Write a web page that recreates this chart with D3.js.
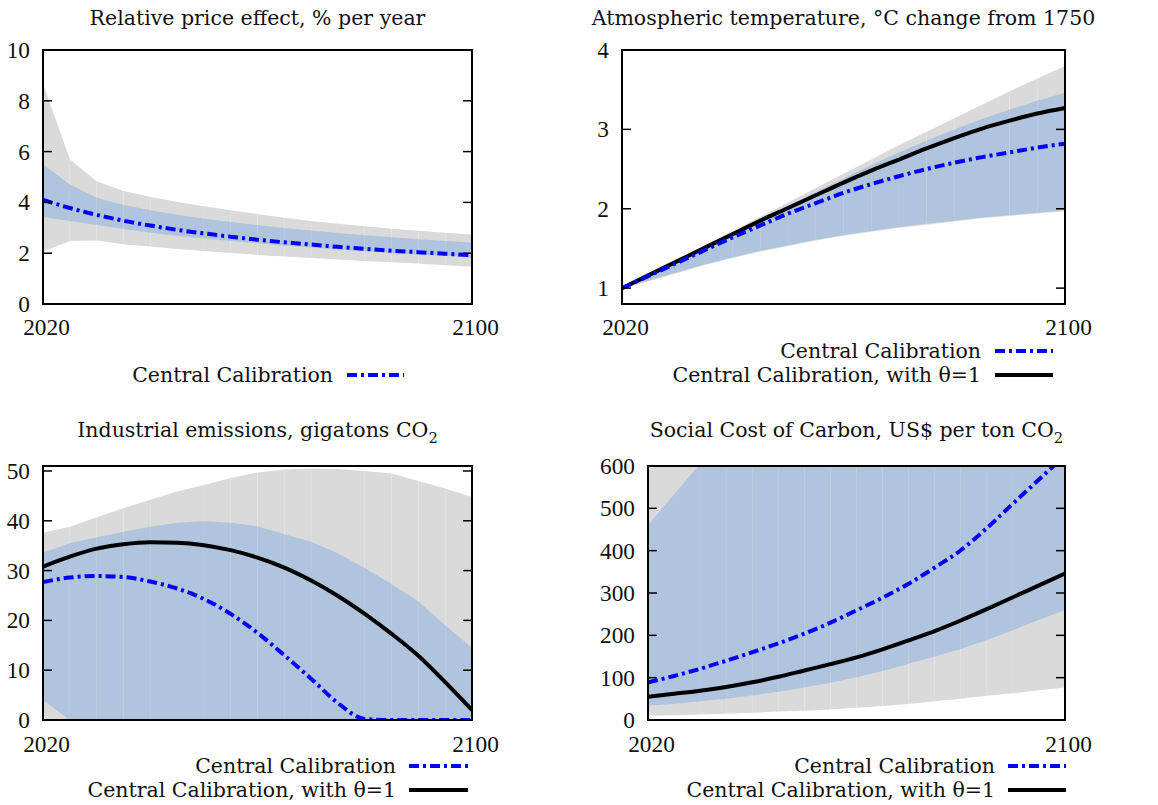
<!DOCTYPE html>
<html>
<head>
<meta charset="utf-8">
<script src="https://cdn.jsdelivr.net/npm/d3@7"></script>
<style>
  html, body { margin: 0; padding: 0; background: #ffffff; }
  svg { display: block; }
</style>
</head>
<body>
<svg id="chart" width="1158" height="805"></svg>
<script>
// ---------------- DATA ----------------
const years = [2020, 2025, 2030, 2035, 2040, 2045, 2050, 2055, 2060, 2065, 2070, 2075, 2080, 2085, 2090, 2095, 2100];
const xTickLabels = [2020, 2100];

// Panel 1: Relative price effect, % per year
const priceGreyHi = [8.68, 5.70, 4.83, 4.45, 4.22, 4.02, 3.85, 3.69, 3.54, 3.40, 3.27, 3.16, 3.06, 2.96, 2.88, 2.81, 2.74];
const priceGreyLo = [2.06, 2.48, 2.50, 2.35, 2.26, 2.17, 2.09, 2.01, 1.93, 1.87, 1.81, 1.75, 1.69, 1.64, 1.59, 1.53, 1.47];
const priceBlueHi = [5.50, 4.70, 4.18, 3.90, 3.69, 3.51, 3.36, 3.23, 3.11, 2.99, 2.89, 2.80, 2.71, 2.63, 2.55, 2.48, 2.42];
const priceBlueLo = [3.43, 3.27, 3.11, 2.95, 2.81, 2.69, 2.58, 2.48, 2.39, 2.30, 2.22, 2.15, 2.08, 2.01, 1.95, 1.89, 1.83];
const priceCentral = [4.10, 3.78, 3.51, 3.28, 3.09, 2.92, 2.78, 2.65, 2.53, 2.43, 2.34, 2.25, 2.17, 2.10, 2.04, 1.98, 1.92];
const priceTicks = [0, 2, 4, 6, 8, 10];

// Panel 2: Atmospheric temperature
const tempGreyHi = [1.00, 1.18, 1.36, 1.54, 1.72, 1.90, 2.08, 2.26, 2.44, 2.62, 2.80, 2.97, 3.14, 3.31, 3.48, 3.64, 3.80];
const tempGreyLo = [1.00, 1.09, 1.19, 1.29, 1.38, 1.46, 1.53, 1.60, 1.66, 1.71, 1.76, 1.80, 1.84, 1.88, 1.91, 1.94, 1.97];
const tempBlueHi = [1.00, 1.18, 1.35, 1.52, 1.70, 1.87, 2.04, 2.21, 2.38, 2.55, 2.71, 2.86, 3.00, 3.13, 3.25, 3.36, 3.46];
const tempBlueLo = [1.00, 1.10, 1.20, 1.30, 1.39, 1.47, 1.54, 1.61, 1.67, 1.72, 1.77, 1.81, 1.85, 1.89, 1.92, 1.95, 1.98];
const tempCentral = [1.00, 1.16, 1.32, 1.48, 1.64, 1.79, 1.94, 2.07, 2.20, 2.31, 2.41, 2.50, 2.58, 2.65, 2.71, 2.77, 2.82];
const tempTheta1 = [1.00, 1.17, 1.34, 1.51, 1.68, 1.85, 2.01, 2.17, 2.33, 2.48, 2.62, 2.76, 2.89, 3.01, 3.11, 3.20, 3.27];
const tempTicks = [1, 2, 3, 4];

// Panel 3: Industrial emissions, gigatons CO2
const emisGreyHi = [37.6, 38.8, 40.7, 42.5, 44.2, 45.9, 47.2, 48.6, 49.7, 50.3, 50.5, 50.4, 50.0, 49.5, 48.0, 46.5, 44.8];
const emisGreyLo = [0, 0, 0, 0, 0, 0, 0, 0, 0, 0, 0, 0, 0, 0, 0, 0, 0];
const emisBlueHi = [33.6, 35.5, 36.7, 37.8, 38.8, 39.6, 39.9, 39.6, 38.9, 37.3, 35.8, 33.5, 30.5, 27.3, 23.8, 19.0, 14.5];
const emisBlueLo = [4.0, 0, 0, 0, 0, 0, 0, 0, 0, 0, 0, 0, 0, 0, 0, 0, 0];
const emisCentral = [27.7, 28.6, 28.9, 28.7, 27.8, 26.4, 24.3, 21.3, 17.5, 13.0, 8.3, 3.4, 0.2, 0, 0, 0, 0];
const emisTheta1 = [30.8, 32.8, 34.4, 35.3, 35.7, 35.6, 35.1, 34.1, 32.6, 30.6, 28.0, 24.9, 21.3, 17.3, 12.9, 7.6, 2.0];
const emisTicks = [0, 10, 20, 30, 40, 50];

// Panel 4: Social Cost of Carbon, US$ per ton CO2
const sccGreyHi = [640, 760, 890, 1010, 1140, 1270, 1400, 1540, 1690, 1840, 2000, 2170, 2350, 2540, 2740, 2950, 3170];
const sccGreyLo = [10, 11, 13, 15, 17, 20, 22, 25, 29, 33, 38, 44, 50, 57, 63, 70, 77];
const sccBlueHi = [460, 533, 605, 690, 780, 870, 960, 1060, 1160, 1270, 1380, 1500, 1620, 1750, 1880, 2020, 2160];
const sccBlueLo = [34, 38, 44, 50, 58, 67, 77, 88, 101, 116, 133, 150, 168, 189, 212, 236, 260];
const sccCentral = [89, 104, 121, 140, 160, 181, 204, 230, 259, 289, 322, 360, 401, 453, 511, 568, 625];
const sccTheta1 = [55, 62, 69, 78, 89, 102, 117, 132, 148, 167, 188, 210, 235, 262, 290, 318, 346];
const sccTicks = [0, 100, 200, 300, 400, 500, 600];

const legendLabels = ["Central Calibration", "Central Calibration, with \u03B8=1"];

// ---------------- STYLE / LAYOUT ----------------
const GREY = "#dadada";
const BLUE_BAND = "#b0c4de";
const BLUE_LINE = "#0000ff";
const TEXT_FAMILY = "'DejaVu Serif', 'Liberation Serif', serif";
const NUM_FAMILY = "'Liberation Serif', 'DejaVu Serif', serif";
const TEXT_FONT = 20.5;
const NUM_FONT = 23.3;
const DASH = "10,4,3,4";

const panels = [
  { title: ["Relative price effect, % per year"], titleY: 25,
    box: [43, 472, 50, 304], yDomain: [0, 10], yTicks: priceTicks,
    greyHi: priceGreyHi, greyLo: priceGreyLo, blueHi: priceBlueHi, blueLo: priceBlueLo,
    central: priceCentral, theta1: null,
    xLabY: 335, legend: { textRight: 333, sx0: 347, sx1: 404, rows: [375] } },
  { title: ["Atmospheric temperature, \u00B0C change from 1750"], titleY: 25,
    box: [622, 1065, 50, 304], yDomain: [0.8, 4], yTicks: tempTicks,
    greyHi: tempGreyHi, greyLo: tempGreyLo, blueHi: tempBlueHi, blueLo: tempBlueLo,
    central: tempCentral, theta1: tempTheta1,
    xLabY: 335, legend: { textRight: 981, sx0: 995, sx1: 1053, rows: [351, 375] } },
  { title: ["Industrial emissions, gigatons CO", "2"], titleY: 437,
    box: [43, 472, 466, 720], yDomain: [0, 51], yTicks: emisTicks,
    greyHi: emisGreyHi, greyLo: emisGreyLo, blueHi: emisBlueHi, blueLo: emisBlueLo,
    central: emisCentral, theta1: emisTheta1,
    xLabY: 752, legend: { textRight: 396, sx0: 409, sx1: 468, rows: [766, 790] } },
  { title: ["Social Cost of Carbon, US$ per ton CO", "2"], titleY: 437,
    box: [648, 1065, 466, 720], yDomain: [0, 600], yTicks: sccTicks,
    greyHi: sccGreyHi, greyLo: sccGreyLo, blueHi: sccBlueHi, blueLo: sccBlueLo,
    central: sccCentral, theta1: sccTheta1,
    xLabY: 752, legend: { textRight: 995, sx0: 1008, sx1: 1066, rows: [766, 790] } }
];

const svg = d3.select("#chart");
const defs = svg.append("defs");

panels.forEach((p, pi) => {
  const [x0, x1, y0, y1] = p.box;
  const x = d3.scaleLinear().domain([2020, 2100]).range([x0, x1]);
  const y = d3.scaleLinear().domain(p.yDomain).range([y1, y0]);

  const clipId = "clip" + pi;
  defs.append("clipPath").attr("id", clipId)
    .append("rect").attr("x", x0).attr("y", y0).attr("width", x1 - x0 + 2).attr("height", y1 - y0);

  const g = svg.append("g");
  const plot = g.append("g").attr("clip-path", `url(#${clipId})`);

  // bands, drawn as 5-year segments (gives the faint seams of the original)
  const area = d3.area().x(d => x(d.t)).y0(d => y(d.lo)).y1(d => y(d.hi));
  function band(hi, lo, color) {
    for (let i = 0; i < years.length - 1; i++) {
      const seg = [i, i + 1].map(k => ({ t: years[k], hi: hi[k], lo: lo[k] }));
      plot.append("path").attr("d", area(seg)).attr("fill", color);
    }
  }
  band(p.greyHi, p.greyLo, GREY);
  band(p.blueHi, p.blueLo, BLUE_BAND);

  const line = d3.line().x((d, i) => x(years[i])).y(d => y(d)).curve(d3.curveMonotoneX);
  if (p.theta1) {
    plot.append("path").attr("d", line(p.theta1)).attr("fill", "none")
      .attr("stroke", "#000").attr("stroke-width", 4);
  }
  plot.append("path").attr("d", line(p.central)).attr("fill", "none")
    .attr("stroke", BLUE_LINE).attr("stroke-width", 4).attr("stroke-dasharray", DASH);

  // y ticks (inward, mirrored)
  p.yTicks.forEach(t => {
    const yy = y(t);
    g.append("line").attr("x1", x0).attr("x2", x0 + 9).attr("y1", yy).attr("y2", yy)
      .attr("stroke", "#000").attr("stroke-width", 1.5);
    g.append("line").attr("x1", x1 - 9).attr("x2", x1).attr("y1", yy).attr("y2", yy)
      .attr("stroke", "#000").attr("stroke-width", 1.5);
    g.append("text").attr("x", x0 - 13).attr("y", yy).attr("dy", "0.34em")
      .attr("text-anchor", "end").attr("font-family", NUM_FAMILY)
      .attr("font-size", NUM_FONT).attr("fill", "#111").text(t);
  });

  // x tick labels
  xTickLabels.forEach(t => {
    g.append("text").attr("x", x(t) + 3.5).attr("y", p.xLabY)
      .attr("text-anchor", "middle").attr("font-family", NUM_FAMILY)
      .attr("font-size", NUM_FONT).attr("fill", "#111").text(t);
  });

  // border
  g.append("rect").attr("x", x0).attr("y", y0).attr("width", x1 - x0).attr("height", y1 - y0)
    .attr("fill", "none").attr("stroke", "#000").attr("stroke-width", 2);

  // title
  const tt = g.append("text").attr("x", (x0 + x1) / 2).attr("y", p.titleY)
    .attr("text-anchor", "middle").attr("font-family", TEXT_FAMILY)
    .attr("font-size", TEXT_FONT).attr("fill", "#111");
  tt.append("tspan").text(p.title[0]);
  if (p.title[1]) {
    tt.append("tspan").attr("dy", 6).attr("font-size", TEXT_FONT * 0.72).text(p.title[1]);
  }

  // legend
  const L = p.legend;
  const entries = p.theta1 ? [0, 1] : [0];
  entries.forEach((e, k) => {
    const ly = L.rows[k];
    g.append("text").attr("x", L.textRight).attr("y", ly + 7)
      .attr("text-anchor", "end").attr("font-family", TEXT_FAMILY)
      .attr("font-size", TEXT_FONT).attr("fill", "#111").text(legendLabels[e]);
    const s = g.append("line").attr("x1", L.sx0).attr("x2", L.sx1).attr("y1", ly).attr("y2", ly)
      .attr("stroke-width", 4);
    if (e === 0) s.attr("stroke", BLUE_LINE).attr("stroke-dasharray", DASH);
    else s.attr("stroke", "#000");
  });
});
</script>
</body>
</html>
